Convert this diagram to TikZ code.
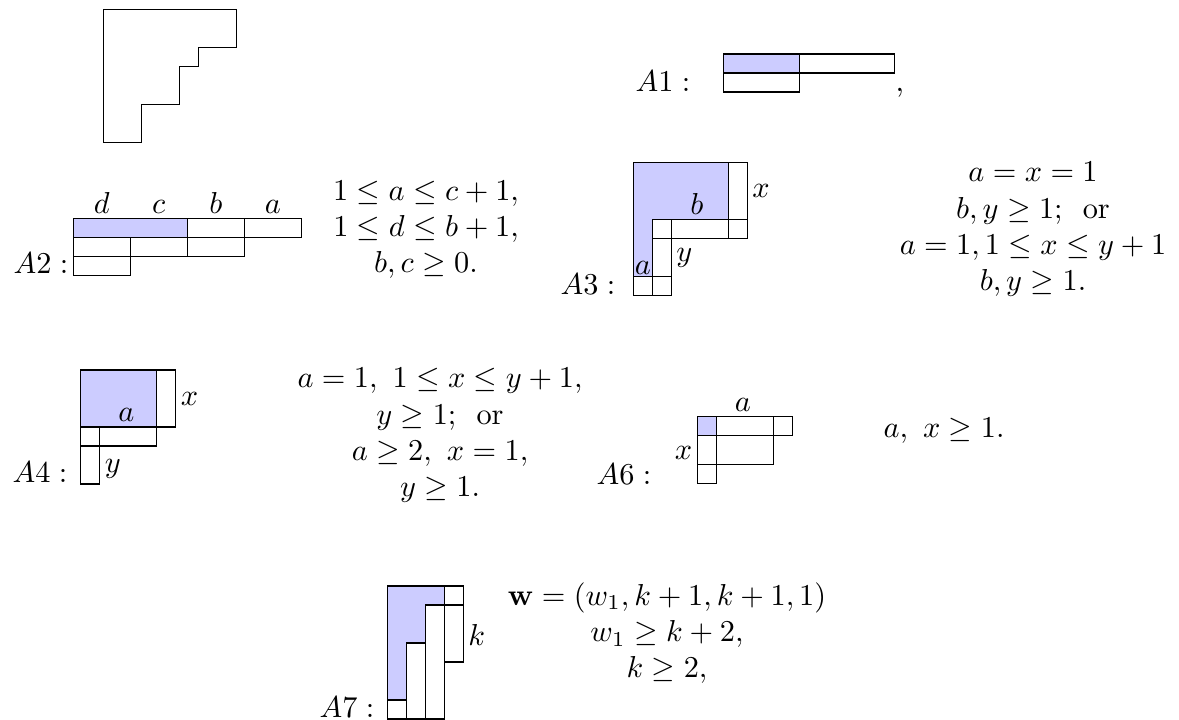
\documentclass[tikz,border=0pt]{standalone}
\usepackage{amsmath}
\begin{document}
\begin{tikzpicture}[
    x=0.33pt, y=-0.33pt,
    shaded/.style={fill=blue!20},
    grid/.style={x=6.27pt, y=-6.27pt},
    lbl/.style={inner sep=1.5pt},
    cond/.style={align=center, anchor=base, inner sep=0pt,
      execute at begin node={\setlength{\baselineskip}{12pt}}},
    tag/.style={anchor=base east, inner sep=0pt}
  ]
    \useasboundingbox (0,0) rectangle (1179,720);

    % staircase
    \begin{scope}[shift={(103.3,9.3)}, grid]
      \draw (0,0) -| (7,2) -| (5,3) -| (4,5) -| (2,7) -| cycle;
    \end{scope}

    % A1
    \node[tag] (A1tag) at (691,92) {$A1:$};
    \begin{scope}[shift={(723.3,54)}, grid]
      \fill[shaded] (0,0) rectangle (4,1);
      \draw (0,0) rectangle (4,1) (4,0) rectangle (9,1) (0,1) rectangle (4,2);
    \end{scope}
    \node[anchor=base west, inner sep=0pt] (A1comma) at (895,92) {,};

    % A2
    \node[tag] (A2tag) at (69,274) {$A2:$};
    \begin{scope}[shift={(73.3,218.3)}, grid]
      \fill[shaded] (0,0) rectangle (6,1);
      \draw (0,0) rectangle (6,1) (6,0) rectangle (9,1) (9,0) rectangle (12,1)
        (0,1) rectangle (3,2) (3,1) rectangle (6,2) (6,1) rectangle (9,2)
        (0,2) rectangle (3,3);
      \node[lbl, above] (A2d) at (1.5,0) {$d$};
      \node[lbl, above] (A2c) at (4.5,0) {$c$};
      \node[lbl, above] (A2b) at (7.5,0) {$b$};
      \node[lbl, above] (A2a) at (10.5,0) {$a$};
    \end{scope}
    % base = last line
    \node[cond] (A2cond) at (426,273) {$1\leq a\leq c+1,$\\ $1\leq d\leq b+1,$\\ $b,c\geq 0.$};

    % A3
    \node[tag] (A3tag) at (616,295) {$A3:$};
    \begin{scope}[shift={(633.3,162.7)}, grid]
      \fill[shaded] (0,0) -| (5,3) -| (1,6) -| cycle;
      \draw (0,0) -| (5,3) -| (1,6) -| cycle;
      \draw (5,0) rectangle (6,3) (5,3) rectangle (6,4) (1,3) rectangle (5,4)
        (1,3) rectangle (2,4) (1,4) rectangle (2,6) (0,6) rectangle (1,7)
        (1,6) rectangle (2,7);
      \node[lbl, right] (A3x) at (6,1.5) {$x$};
      \node[lbl, above] (A3b) at (3.35,3) {$b$};
      \node[lbl, right] (A3y) at (2,5) {$y$};
      \node[inner sep=0.5pt, above] (A3a) at (0.5,6) {$a$};
    \end{scope}
    \node[cond] (A3cond) at (1033,291) {$a=x=1$\\ $b,y\geq 1$;\ \ or\\ $a=1,1\leq x\leq y+1$\\ $b,y\geq 1.$};

    % A4
    \node[tag] (A4tag) at (68,483) {$A4:$};
    \begin{scope}[shift={(80.7,370)}, grid]
      \fill[shaded] (0,0) rectangle (4,3);
      \draw (0,0) rectangle (4,3) (4,0) rectangle (5,3) (0,3) rectangle (1,4)
        (1,3) rectangle (4,4) (0,4) rectangle (1,6);
      \node[lbl, right] (A4x) at (5,1.5) {$x$};
      \node[lbl, above] (A4a) at (2.4,3) {$a$};
      \node[lbl, right] (A4y) at (1,5.2) {$y$};
    \end{scope}
    \node[cond] (A4cond) at (440,497) {$a=1,\ 1\leq x\leq y+1,$\\ $y\geq 1$;\ \ or\\ $a\geq 2,\ x=1,$\\ $y\geq 1.$};

    % A6
    \node[tag] (A6tag) at (652,485) {$A6:$};
    \begin{scope}[shift={(697.3,416.7)}, grid]
      \fill[shaded] (0,0) rectangle (1,1);
      \draw (0,0) rectangle (1,1) (1,0) rectangle (4,1) (4,0) rectangle (5,1)
        (0,1) rectangle (1,2.5) (1,1) rectangle (4,2.5) (0,2.5) rectangle (1,3.5);
      \node[lbl, above] (A6a) at (2.4,0) {$a$};
      \node[lbl, left] (A6x) at (0,1.9) {$x$};
    \end{scope}
    \node[cond] (A6cond) at (944,438) {$a,\ x\geq 1.$};

    % A7
    \node[tag] (A7tag) at (375,718) {$A7:$};
    \begin{scope}[shift={(387.3,586)}, grid]
      \fill[shaded] (0,0) -| (3,1) -| (2,3) -| (1,6) -| cycle;
      \draw (0,0) -| (3,1) -| (2,3) -| (1,6) -| cycle;
      \draw (3,0) rectangle (4,1) (3,1) rectangle (4,4) (2,1) rectangle (3,7)
        (1,3) rectangle (2,7) (0,6) rectangle (1,7);
      \node[lbl, right] (A7k) at (4,2.6) {$k$};
    \end{scope}
    \node[cond] (A7cond) at (667,678) {$\mathbf{w}=(w_1,k+1,k+1,1)$\\ $w_1\geq k+2,$\\ $k\geq 2,$};
  \end{tikzpicture}
\end{document}
